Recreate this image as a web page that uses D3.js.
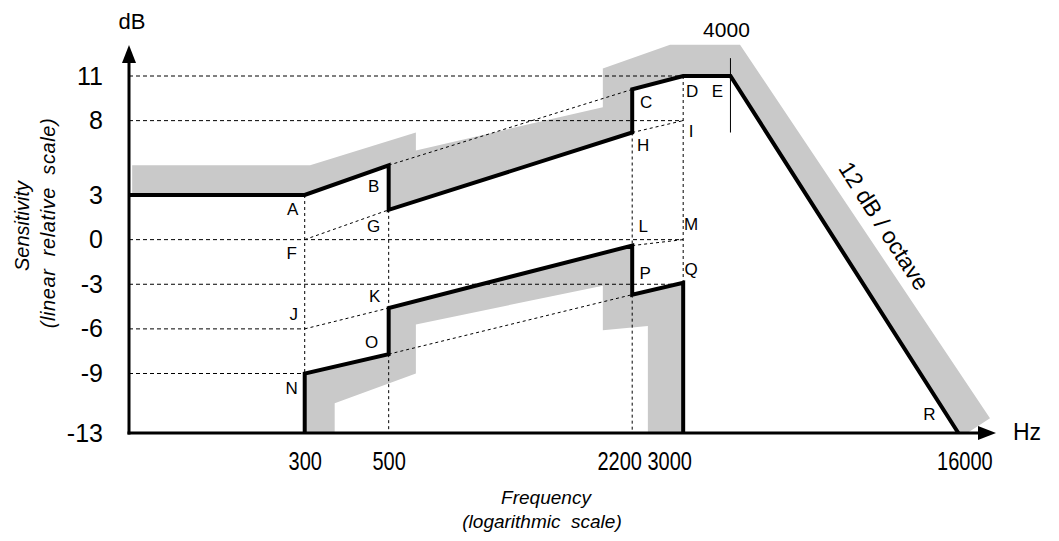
<!DOCTYPE html>
<html>
<head>
<meta charset="utf-8">
<script src="https://cdn.jsdelivr.net/npm/d3@7"></script>
<style>
  body { margin: 0; background: #fff; }
  svg { display: block; font-family: "Liberation Sans", Arial, sans-serif; }
</style>
</head>
<body>
<div id="chart"></div>
<script>
// values: [frequency Hz, level dB]
const freqTicks = [300, 500, 2200, 3000, 16000];
const dbTicks = [11, 8, 3, 0, -3, -6, -9, -13];
const freqMin = 103, freqMax = 20000;

const upperCurve = [[103, 3], [300, 3], [500, 5], [500, 2], [2200, 7.2], [2200, 10.1], [3000, 11], [4000, 11], [16000, -13]];
const lowerCurve = [[300, -13], [300, -9], [500, -7.7], [500, -4.6], [2200, -0.4], [2200, -3.7], [3000, -2.9], [3000, -13]];

// grey tolerance bands
const upperShade = [[105, 5], [310, 5], [590, 7.2], [590, 6], [1840, 8.9], [1840, 11.5], [2770, 13.1], [4240, 13.1],
  [19400, -12], [16900, -13], [16000, -13], [4000, 11], [3000, 11], [2200, 10.1], [2200, 7.2], [500, 2], [500, 5], [300, 3], [105, 3]];
const lowerShade = [[300, -13], [300, -9], [500, -7.7], [500, -4.6], [2200, -0.4], [2200, -3.7], [3000, -2.9], [3000, -13],
  [2420, -13], [2420, -5.8], [1840, -6.1], [1840, -3.1], [590, -5.7], [590, -9], [360, -11], [360, -13]];

// dashed construction lines
const guides = [
  [[103, 11], [3000, 11]], [[103, 8], [3000, 8]], [[103, 0], [3000, 0]], [[103, -3], [3000, -3]],
  [[103, -6], [300, -6]], [[103, -9], [300, -9]],
  [[300, 0], [500, 2]], [[300, -6], [500, -4.6]], [[500, 5], [2200, 10.1]], [[2200, 7.2], [3000, 8]],
  [[500, -7.7], [2200, -3.7]], [[2200, -0.4], [3000, 0]],
  [[300, 3], [300, -9]], [[500, 2], [500, -4.6]], [[500, -7.7], [500, -13]],
  [[2200, 7.2], [2200, -0.4]], [[2200, -3.7], [2200, -13]], [[3000, 11], [3000, -2.9]]
];

const pointLabels = [
  ["A", 300, 3, -12, 14], ["B", 500, 5, -15, 21], ["C", 2200, 10.1, 14, 13], ["D", 3000, 11, 9, 15],
  ["E", 4000, 11, -13, 15], ["H", 2200, 7.2, 11, 13], ["I", 3000, 8, 8, 11], ["F", 300, 0, -13, 14],
  ["G", 500, 2, -15, 17], ["L", 2200, 0, 11, -13], ["M", 3000, 0, 8, -15], ["J", 300, -6, -11, -14],
  ["K", 500, -3, -14, 12], ["O", 500, -7.7, -17, -12], ["N", 300, -9, -13, 15], ["P", 2200, -3, 13, -11],
  ["Q", 3000, -3, 8, -15], ["R", 16000, -13, -29, -19]
];

const width = 1059, height = 541;
const squeeze = 0.8; // x tick labels are set in a narrow face

const svg = d3.select("#chart").append("svg")
  .attr("width", width)
  .attr("height", height);

const x = d3.scaleLog().domain([freqMin, freqMax]).range([129, 995]);
const y = d3.scaleLinear().domain([-13, 11]).range([433, 76]);

const line = d3.line().x(d => x(d[0])).y(d => y(d[1]));

// shading
svg.selectAll(".shade")
  .data([upperShade, lowerShade])
  .enter()
  .append("path")
  .attr("class", "shade")
  .attr("d", d => line(d) + "Z")
  .attr("fill", "#c9c9c9");

// dashed guides
svg.selectAll(".guide")
  .data(guides)
  .enter()
  .append("path")
  .attr("class", "guide")
  .attr("d", line)
  .attr("fill", "none")
  .attr("stroke", "#000")
  .attr("stroke-width", 1)
  .attr("stroke-dasharray", d => d[0][1] === d[1][1] ? "4,3" : "3,3");

// 4000 Hz marker
svg.append("line")
  .attr("x1", x(4000)).attr("x2", x(4000))
  .attr("y1", y(12.2)).attr("y2", y(7.2))
  .attr("stroke", "#000")
  .attr("stroke-width", 1);

svg.append("text")
  .attr("x", x(4000) - 4)
  .attr("y", 37)
  .attr("text-anchor", "middle")
  .style("font-size", "21px")
  .text("4000");

// sensitivity curves
[upperCurve, lowerCurve].forEach(c => {
  svg.append("path")
    .datum(c)
    .attr("d", line)
    .attr("fill", "none")
    .attr("stroke", "#000")
    .attr("stroke-width", 4)
    .attr("stroke-linejoin", "miter");
});

// axes
const yAxis = svg.append("g")
  .attr("transform", `translate(${x(freqMin)},0)`)
  .call(d3.axisLeft(y).tickValues(dbTicks).tickFormat(d => String(d)).tickSize(0).tickPadding(26));
yAxis.select(".domain").remove();
yAxis.selectAll("text")
  .style("font-size", "25px")
  .style("font-family", "\"Liberation Sans\", Arial, sans-serif");

const xAxis = svg.append("g")
  .attr("transform", `translate(0,${y(-13)})`)
  .call(d3.axisBottom(x).tickValues(freqTicks).tickFormat(d => String(d)).tickSize(0).tickPadding(19));
xAxis.select(".domain").remove();
xAxis.selectAll("text")
  .style("font-size", "25px")
  .style("font-family", "\"Liberation Sans\", Arial, sans-serif")
  .attr("transform", `scale(${squeeze},1)`)
  .attr("dx", d => (d === 2200 ? -13 : d === 3000 ? -14 : d === 16000 ? 6 : 0) / squeeze);

svg.append("line")
  .attr("x1", x(freqMin)).attr("x2", x(freqMin))
  .attr("y1", y(-13) + 1.5).attr("y2", 58)
  .attr("stroke", "#000").attr("stroke-width", 3);
svg.append("path")
  .attr("d", `M${x(freqMin)},45 L${x(freqMin) - 7},63 L${x(freqMin) + 7},63 Z`)
  .attr("fill", "#000");

svg.append("line")
  .attr("x1", x(freqMin) - 1.5).attr("x2", 982)
  .attr("y1", y(-13)).attr("y2", y(-13))
  .attr("stroke", "#000").attr("stroke-width", 3);
svg.append("path")
  .attr("d", `M996,${y(-13)} L978,${y(-13) - 7} L978,${y(-13) + 7} Z`)
  .attr("fill", "#000");

svg.append("text").attr("x", 132).attr("y", 29)
  .attr("text-anchor", "middle").style("font-size", "22px").text("dB");
svg.append("text").attr("x", 1027).attr("y", 440)
  .attr("text-anchor", "middle").style("font-size", "23px").text("Hz");

// point letters
svg.selectAll(".pt")
  .data(pointLabels)
  .enter()
  .append("text")
  .attr("class", "pt")
  .attr("x", d => x(d[1]) + d[3])
  .attr("y", d => y(d[2]) + d[4])
  .attr("text-anchor", "middle")
  .attr("dominant-baseline", "central")
  .style("font-size", "17px")
  .text(d => d[0]);

// slope label
const p1 = [x(4000), y(11)], p2 = [x(16000), y(-13)];
const ang = Math.atan2(p2[1] - p1[1], p2[0] - p1[0]) * 180 / Math.PI;
svg.append("text")
  .attr("transform", `translate(884,226) rotate(${ang})`)
  .attr("text-anchor", "middle")
  .attr("dominant-baseline", "central")
  .style("font-size", "23px")
  .text("12 dB / octave");

// axis titles
svg.append("text")
  .attr("transform", "translate(22,226) rotate(-90)")
  .attr("text-anchor", "middle")
  .attr("dominant-baseline", "central")
  .style("font-size", "20px")
  .style("font-style", "italic")
  .text("Sensitivity");
svg.append("text")
  .attr("transform", "translate(48,223) rotate(-90)")
  .attr("text-anchor", "middle")
  .attr("dominant-baseline", "central")
  .style("font-size", "20px")
  .style("font-style", "italic")
  .style("letter-spacing", "0.6px")
  .style("white-space", "pre")
  .text("(linear  relative  scale)");

svg.append("text")
  .attr("x", 546).attr("y", 497)
  .attr("text-anchor", "middle")
  .attr("dominant-baseline", "central")
  .style("font-size", "19px")
  .style("font-style", "italic")
  .text("Frequency");
svg.append("text")
  .attr("x", 542).attr("y", 521)
  .attr("text-anchor", "middle")
  .attr("dominant-baseline", "central")
  .style("font-size", "19px")
  .style("font-style", "italic")
  .style("white-space", "pre")
  .text("(logarithmic  scale)");
</script>
</body>
</html>
